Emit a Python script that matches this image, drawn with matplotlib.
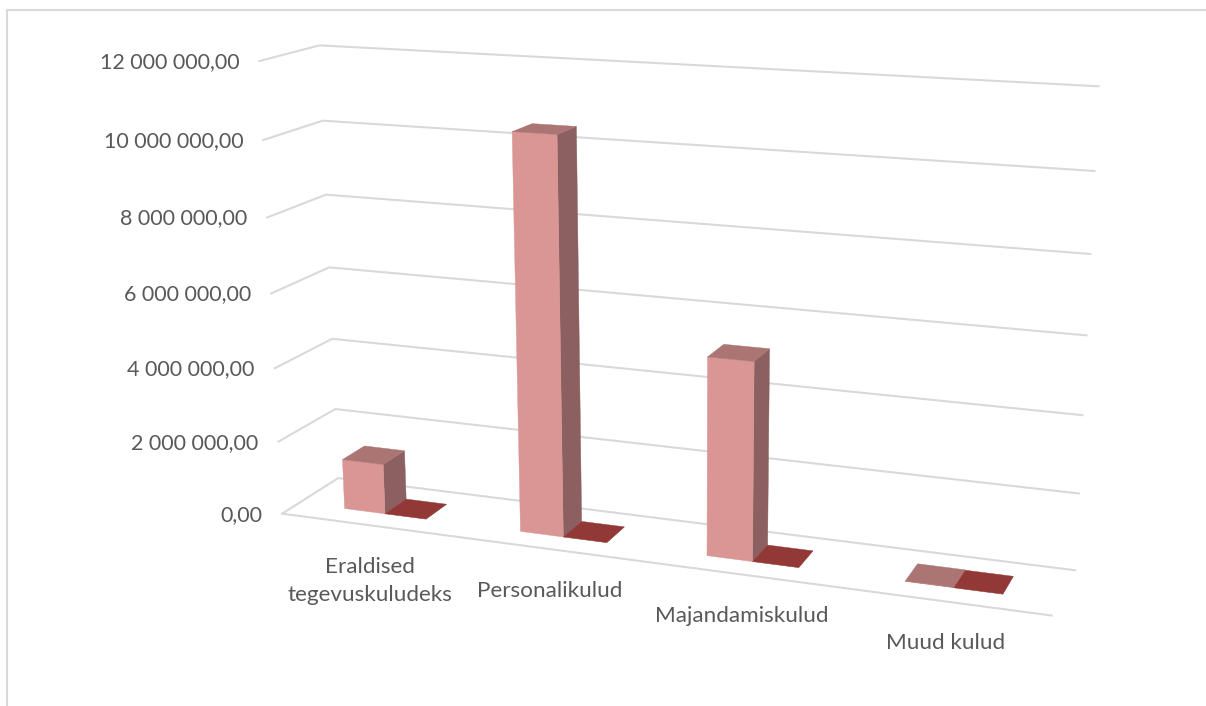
import numpy as np
import matplotlib
matplotlib.use("Agg")
import matplotlib.pyplot as plt
from matplotlib.patches import Polygon

# values, in millions
categories = ["Eraldised\ntegevuskuludeks", "Personalikulud", "Majandamiskulud", "Muud kulud"]
series_a = [1.37, 10.45, 5.18, 0.01]
series_b = [0.0, 0.0, 0.0, 0.0]
tick_values = [0, 2, 4, 6, 8, 10, 12]
tick_labels = ["0,00", "2 000 000,00", "4 000 000,00", "6 000 000,00",
               "8 000 000,00", "10 000 000,00", "12 000 000,00"]

GRID = "#D9D9D9"
TEXT = "#595959"
FRONT = "#D99694"
SIDE = "#8C6060"
TOP = "#AA7573"
FLAT_B = "#923836"

BAR_WIDTH = 0.235
BAR_START = 0.266
DEPTH_FRONT = 0.3
DEPTH_BACK = 0.7

# where the corners of the chart box land on the image, used to solve the camera
# (category pos, depth, value) -> (pixel x, pixel y)
front_left = [(259, 61), (263.5, 140), (267, 218), (271, 294), (275, 368), (278.5, 442), (282, 513)]
back_left = [(319.5, 45), (323, 120.5), (326, 194.5), (330, 267.5), (332, 339), (335, 409), (338, 478)]
back_right = [(1099, 86), (1094, 171), (1090, 254), (1086, 336), (1083, 415), (1079, 493), (1075, 571)]
front_right_floor = (1052, 615)


def solve_camera():
    rows = []
    pts = []
    for i, z in enumerate([12, 10, 8, 6, 4, 2, 0]):
        pts.append((0, 0, z, *front_left[i]))
        pts.append((0, 1, z, *back_left[i]))
        pts.append((4, 1, z, *back_right[i]))
    pts.append((4, 0, 0, *front_right_floor))
    for x, y, z, u, v in pts:
        rows.append([x, y, z, 1, 0, 0, 0, 0, -u * x, -u * y, -u * z, -u])
        rows.append([0, 0, 0, 0, x, y, z, 1, -v * x, -v * y, -v * z, -v])
    _, _, vt = np.linalg.svd(np.array(rows, dtype=float))
    return vt[-1].reshape(3, 4)


CAM = solve_camera()


def project(x, y, z):
    p = CAM @ np.array([x, y, z, 1.0])
    return p[0] / p[2], p[1] / p[2]


fig = plt.figure(figsize=(12.06, 7.06), dpi=100)
ax = fig.add_axes([0, 0, 1, 1])
ax.set_xlim(0, 1206)
ax.set_ylim(706, 0)
ax.axis("off")

plt.rcParams['font.family'] = ['Lato', 'DejaVu Sans']

# outer frame, only top and left are visible
ax.plot([7, 7, 1206], [706, 10, 10], color=GRID, lw=1.5, zorder=1)

# gridlines
for v, lab in zip(tick_values, tick_labels):
    a = project(0, 0, v)
    b = project(0, 1, v)
    c = project(4, 1, v)
    ax.plot([a[0], b[0], c[0]], [a[1], b[1], c[1]], color=GRID, lw=1.5, zorder=1)
    ax.text(a[0] - 20, a[1] + 1, lab, ha="right", va="center", color=TEXT, fontsize=15.5)

a = project(0, 0, 0)
b = project(4, 0, 0)
ax.plot([a[0], b[0]], [a[1], b[1]], color=GRID, lw=1.5, zorder=1)


def face(corners, color, z):
    ax.add_patch(Polygon([project(*c) for c in corners], closed=True, facecolor=color,
                         edgecolor=color, lw=0.3, zorder=z))


def bar(x0, x1, h, top_color):
    y0, y1 = DEPTH_FRONT, DEPTH_BACK
    face([(x1, y0, 0), (x1, y1, 0), (x1, y1, h), (x1, y0, h)], SIDE, 3)
    face([(x0, y0, 0), (x1, y0, 0), (x1, y0, h), (x0, y0, h)], FRONT, 4)
    face([(x0, y0, h), (x1, y0, h), (x1, y1, h), (x0, y1, h)], top_color, 5)


for i in range(len(categories)):
    x0 = i + BAR_START
    bar(x0 + BAR_WIDTH, x0 + 2 * BAR_WIDTH, series_b[i], FLAT_B)
    bar(x0, x0 + BAR_WIDTH, series_a[i], TOP)

    px, py = project(i + 0.5, 0, 0)
    ax.text(px + 1, py + 32, categories[i], ha="center", va="top", color=TEXT, fontsize=16.2,
            linespacing=1.5)

fig.savefig("out.png", dpi=100)
